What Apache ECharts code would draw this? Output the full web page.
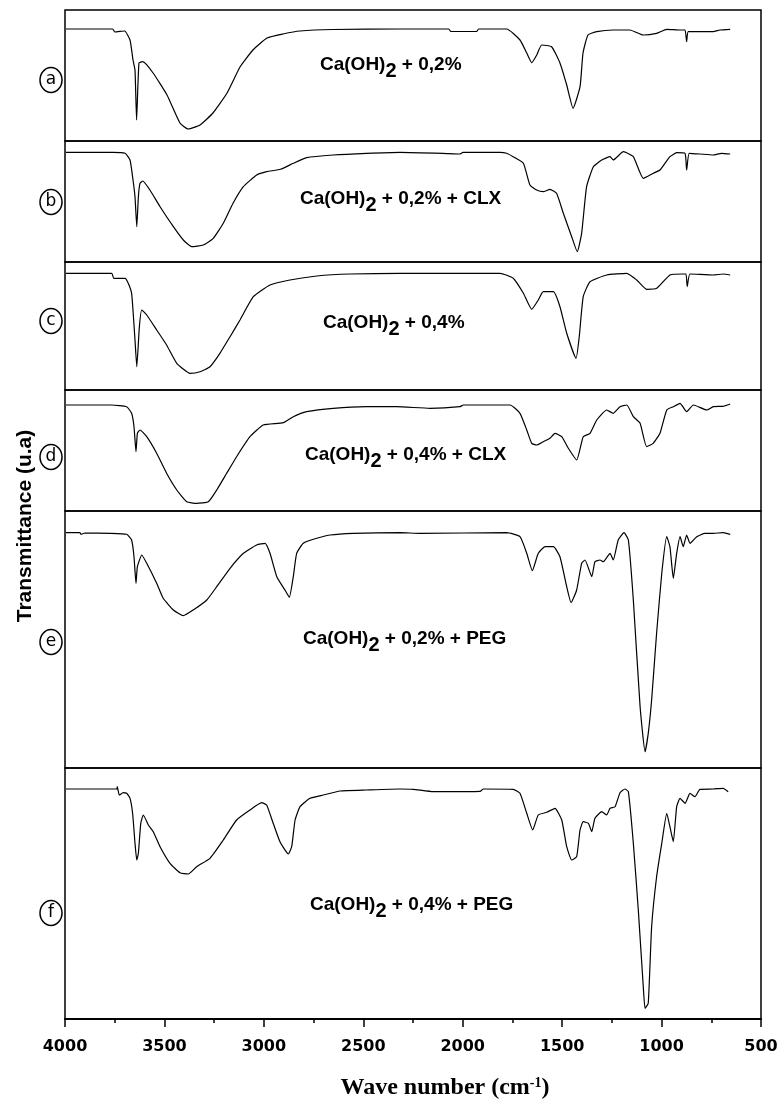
<!DOCTYPE html>
<html>
<head>
<meta charset="utf-8">
<script src="https://cdn.jsdelivr.net/npm/echarts@6/dist/echarts.min.js"></script>
<style>
  html, body { margin: 0; padding: 0; background: #fff; }
  #chart { width: 778px; height: 1099px; }
</style>
</head>
<body>
<div id="chart"></div>
<script>
// FTIR spectra, [wave number (cm-1), transmittance (a.u.)]
var spectrumA = [[3995,112],[3760,112],[3750,109],[3700,110],[3673,101],[3658,81],[3648,71],[3640,21],[3628,78],[3609,79.3],
  [3557,68],[3487,46],[3422,18],[3381,12],[3321,16],[3256,28],[3185,48],[3120,74],[3055,91],[2984,103],[2904,107],[2818,110],
  [2652,111.5],[2315,112],[2070,112],[2060,109.5],[1930,109.5],[1920,112],[1779,112],[1712,101],[1678,88],[1653,78.3],[1628,86],
  [1603,96],[1553,94.3],[1511,78],[1477,56],[1445,32.7],[1410,54.3],[1395,88],[1370,106],[1326,109.3],[1244,111],[1159,111],
  [1093,106],[1025,107.7],[974,111.7],[907,111],[882,111],[874,99.3],[866,109.3],[805,109.3],[741,109.3],[706,111],[655,111.7]];

var spectrumB = [[3995,109.7],[3760,109.7],[3698,108.7],[3673,102],[3658,82],[3648,65.3],[3639,35.3],[3631,65.3],[3623,78.7],
  [3609,81],[3573,72],[3522,55.3],[3455,35.3],[3405,22],[3363,15.3],[3305,17],[3254,23.7],[3204,38.7],[3155,58.7],[3103,75.3],
  [3036,87],[2986,90.3],[2916,92.7],[2852,98.7],[2785,104.3],[2652,107],[2483,108.7],[2315,109.7],[2100,108.7],[2014,108],
  [1999,109.7],[1812,109.7],[1779,108.7],[1747,105.3],[1695,98.7],[1662,77],[1628,72],[1595,70.3],[1561,72.7],[1528,68.7],
  [1494,48.7],[1452,25.3],[1424,10.3],[1402,28.7],[1377,75.3],[1343,95.3],[1301,102],[1259,105.3],[1243,102],[1192,110.3],
  [1142,105.3],[1092,83.7],[1042,88.7],[1008,92],[958,105.3],[924,109.3],[882,108.7],[874,92],[861,108.7],[807,108],
  [740,107],[698,108.7],[655,108]];

var spectrumC = [[3995,116.7],[3765,116.7],[3755,111.7],[3698,111.7],[3682,106.7],[3665,96.7],[3657,76.7],[3648,50],[3639,23.3],
  [3626,63.3],[3614,80],[3589,75],[3539,60],[3489,45],[3438,26.7],[3371,16.7],[3321,18.3],[3271,23.3],[3221,36.7],[3170,53.3],
  [3120,70],[3053,93.3],[2969,105],[2869,110],[2734,114],[2567,116],[2315,116.7],[1812,116.7],[1746,111.7],[1695,96.7],
  [1653,80.7],[1620,90],[1595,98.3],[1544,98.3],[1511,83.3],[1477,56.7],[1430,31.7],[1414,53.3],[1394,93.3],[1360,108.3],
  [1276,115],[1175,116.7],[1125,110],[1075,100.7],[1024,101.7],[958,115],[891,116],[877,116],[871,103.3],[857,116],
  [740,115],[690,116],[655,115]];

var spectrumD = [[3995,106],[3765,106],[3690,104.3],[3665,97.7],[3653,84.3],[3643,59.3],[3636,77.7],[3623,81],[3589,74.3],
  [3539,57.7],[3489,37.7],[3438,21],[3388,9.3],[3338,7.7],[3279,9.3],[3237,21],[3187,37.7],[3137,54.3],[3070,74.3],[3003,86],
  [2902,88.3],[2852,94.3],[2785,99.3],[2651,102.7],[2483,104.3],[2332,104.3],[2165,102.7],[2014,104.3],[1997,106],[1762,106],
  [1712,97.7],[1678,81],[1653,67.7],[1628,66],[1595,69.3],[1561,72.7],[1536,77.7],[1502,74.3],[1469,62.7],[1427,51],
  [1394,74.3],[1360,77.7],[1326,91],[1276,101],[1243,97.7],[1209,104.3],[1175,106],[1142,94.3],[1108,87.7],[1075,64.3],
  [1042,67.7],[1008,77.7],[974,101],[941,104.3],[907,107.7],[874,99.3],[840,106],[773,101],[740,104.3],[690,104.7],[655,107]];

var spectrumE = [[3995,235.3],[3925,235.3],[3920,233.7],[3900,235],[3774,234.7],[3690,233.7],[3665,228],[3653,211.3],[3643,184.7],
  [3636,201.3],[3614,213],[3589,204.7],[3539,184.7],[3506,169.7],[3455,158],[3405,152.3],[3355,158],[3287,168],[3237,181.3],
  [3170,199.7],[3103,214.7],[3036,223],[2994,224.7],[2969,214.7],[2935,191.3],[2894,178],[2872,170.7],[2852,191.3],[2835,214.7],
  [2802,224.7],[2751,228.7],[2667,233],[2550,234.7],[2315,235.3],[2215,234.7],[1779,235.3],[1712,231.3],[1678,214.7],[1650,197.3],
  [1620,214.7],[1586,221.3],[1544,221.3],[1511,211.3],[1477,181.3],[1455,165.3],[1427,178],[1402,204.7],[1385,208],[1351,191.3],
  [1335,206.3],[1310,208],[1293,206.3],[1259,214.7],[1243,208],[1218,228],[1189,235.3],[1167,228],[1142,168],[1108,61.3],
  [1083,16.3],[1067,34.7],[1050,68],[1025,134.7],[999,194.7],[974,231.3],[958,221.3],[941,189.7],[924,214.7],[907,231.3],
  [891,221.3],[874,233],[857,224.7],[823,231.3],[782,234.7],[740,234.7],[690,235.3],[655,233.7]];

var spectrumF = [[3995,230],[3740,230],[3737,232.3],[3727,224],[3707,226.3],[3690,225.7],[3673,220.7],[3660,205.7],[3648,175.7],
  [3639,159],[3631,165.7],[3619,195.7],[3606,204],[3581,194],[3556,187.3],[3522,172.3],[3472,155.7],[3422,146.3],[3380,145],
  [3338,152.3],[3271,160.7],[3204,179],[3137,199],[3070,209],[3011,216.3],[2986,214],[2953,195.7],[2919,177.3],[2877,165],
  [2860,172.3],[2843,199],[2818,212.3],[2768,220.7],[2701,224],[2617,228],[2483,229],[2315,230],[2249,229.7],[2148,227.3],
  [1913,227.7],[1896,230],[1746,229.7],[1712,225.7],[1678,205.7],[1648,189],[1620,204],[1578,206.7],[1536,210.7],[1502,199],
  [1477,172.3],[1452,159],[1427,162.3],[1410,189],[1394,197.3],[1368,195.7],[1351,187.3],[1335,200.7],[1301,207.3],[1276,204],
  [1259,210.7],[1234,212.3],[1209,226.3],[1184,230],[1167,227.3],[1142,175.7],[1117,109],[1092,32.3],[1083,10.7],[1067,15.7],
  [1050,92.3],[1025,142.3],[999,175.7],[974,205.7],[958,192.3],[941,177.3],[924,212.3],[907,220.7],[882,215.7],[857,225.7],
  [832,222.3],[807,229.7],[740,230],[690,230.7],[665,227.3]];

var panelLetters = ['a', 'b', 'c', 'd', 'e', 'f'];
var panelConc = ['0,2%', '0,2% + CLX', '0,4%', '0,4% + CLX', '0,2% + PEG', '0,4% + PEG'];

var spectra = [spectrumA, spectrumB, spectrumC, spectrumD, spectrumE, spectrumF];

// panel layout (px): top, height
var panelTop = [10, 141, 262, 390, 511, 768];
var panelHeight = [131, 121, 128, 121, 257, 251];
var letterY = [80, 202, 321, 457, 642, 913];
var labelX = [320, 300, 323, 305, 303, 310];
var labelY = [67, 201, 325, 457, 641, 907];

var grids = [], xAxes = [], yAxes = [], series = [], graphics = [];

for (var i = 0; i < 6; i++) {
    var last = (i == 5);
    grids.push({
        left: 65, right: 17, top: panelTop[i], height: panelHeight[i],
        containLabel: false, outerBoundsMode: 'none',
        show: true, borderColor: '#000', borderWidth: 1.5, backgroundColor: 'transparent'
    });
    xAxes.push({
        gridIndex: i, type: 'value', min: 500, max: 4000, interval: 500, inverse: true,
        show: last,
        axisLine: { show: true, onZero: false, lineStyle: { color: '#000', width: 2 } },
        axisTick: { show: true, inside: false, length: 8, lineStyle: { color: '#000', width: 1.5 } },
        minorTick: { show: true, splitNumber: 2, length: 4, lineStyle: { color: '#000', width: 1.5 } },
        splitLine: { show: false },
        axisLabel: {
            show: last, color: '#000', fontFamily: 'DejaVu Sans', fontWeight: 'bold', fontSize: 16, margin: 20,
            formatter: function (v) { return String(v); }
        },
        name: last ? 'Wave number (cm{sup|-1})' : '',
        nameLocation: 'middle', nameGap: 57,
        nameTextStyle: {
            color: '#000', fontFamily: 'Liberation Serif', fontWeight: 'bold', fontSize: 24, padding: [0, 0, 0, 64],
            rich: { sup: { fontFamily: 'Liberation Serif', fontWeight: 'bold', fontSize: 14, verticalAlign: 'top', padding: [0, 0, 10, 0] } }
        }
    });
    yAxes.push({ gridIndex: i, type: 'value', min: 0, max: panelHeight[i], show: false });
    series.push({
        name: panelLetters[i], type: 'line', xAxisIndex: i, yAxisIndex: i,
        data: spectra[i], showSymbol: false, smooth: 0.15, animation: false,
        lineStyle: { color: '#000', width: 1.2 }
    });

    // circled panel letter
    graphics.push({
        type: 'ellipse', shape: { cx: 51, cy: letterY[i], rx: 11, ry: 12.5 },
        style: { fill: '#fff', stroke: '#000', lineWidth: 1.5 }
    });
    graphics.push({
        type: 'text', x: 51, y: letterY[i],
        style: { text: panelLetters[i], fill: '#000', font: '17px "DejaVu Sans"', align: 'center', verticalAlign: 'middle' }
    });
    // sample label
    graphics.push({
        type: 'text', x: labelX[i], y: labelY[i],
        style: {
            text: '{m|Ca(OH)}{s|2}{m| + ' + panelConc[i] + '}',
            verticalAlign: 'middle',
            rich: {
                m: { fontFamily: 'Liberation Sans', fontWeight: 'bold', fontSize: 19, fill: '#000', lineHeight: 24, verticalAlign: 'top' },
                s: { fontFamily: 'Liberation Sans', fontWeight: 'bold', fontSize: 20, fill: '#000', lineHeight: 24, verticalAlign: 'top', padding: [6, 0, 0, 0] }
            }
        }
    });
}

// y axis title
graphics.push({
    type: 'text', x: 25, y: 526, rotation: Math.PI / 2,
    style: { text: 'Transmittance (u.a)', fill: '#000', font: 'bold 21px "Liberation Sans"', align: 'center', verticalAlign: 'middle' }
});

var myChart = echarts.init(document.getElementById('chart'));
var option = {
    backgroundColor: '#fff',
    animation: false,
    grid: grids,
    xAxis: xAxes,
    yAxis: yAxes,
    series: series,
    graphic: graphics
};
myChart.setOption(option);
</script>
</body>
</html>
